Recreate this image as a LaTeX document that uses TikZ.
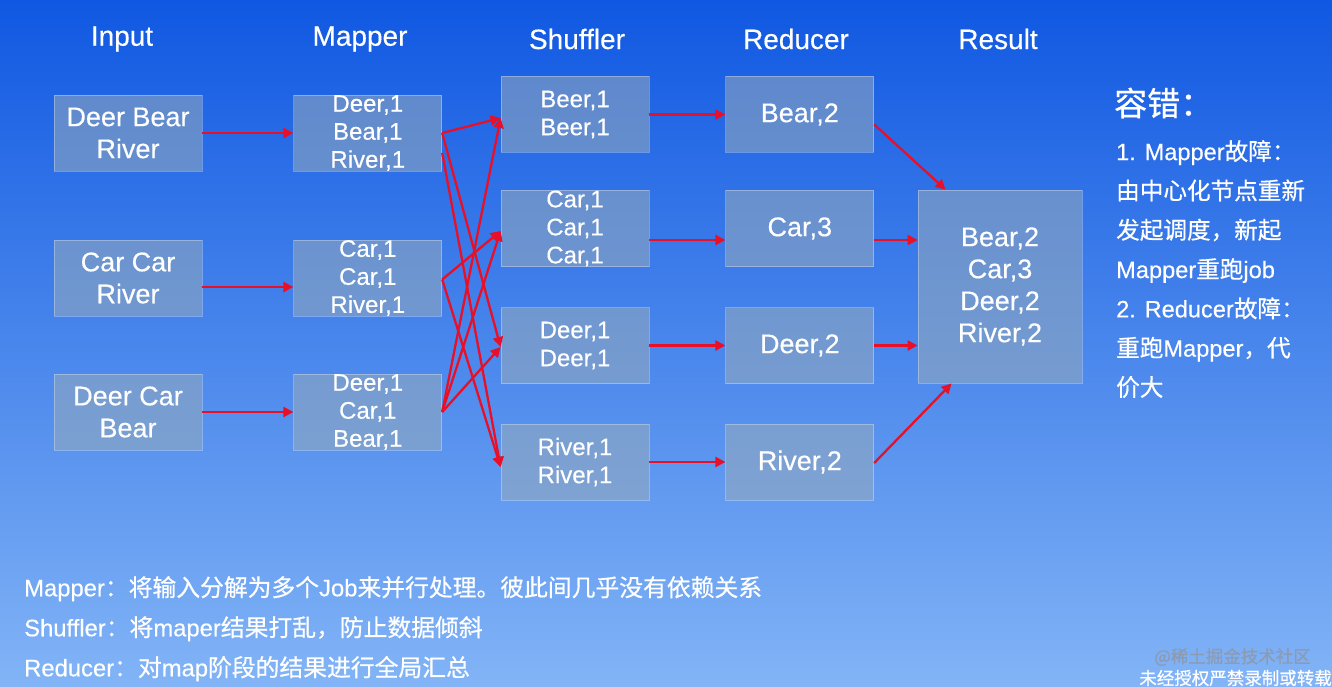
\documentclass[tikz,border=0pt]{standalone}
\usepackage{fontspec}
\setmainfont[FakeBold=0.35]{Liberation Sans}
\newfontfamily\cjk[FakeBold=0.6]{Noto Sans CJK SC}
\usetikzlibrary{arrows.meta,positioning}
\newcommand{\zh}[1]{{\cjk #1}}

\definecolor{bgtop}{RGB}{16,88,226}
\definecolor{bgmid}{RGB}{46,122,236}
\definecolor{bgbot}{RGB}{130,180,246}
\definecolor{boxfill}{RGB}{150,170,186}
\definecolor{arrowred}{RGB}{232,16,40}
\definecolor{markgray}{RGB}{140,155,180}

\begin{document}
\begin{tikzpicture}[
  x=1pt, y=-1pt,
  font=\fontsize{27}{32}\selectfont,
  line/.style={draw=arrowred, line width=2.3pt, -{Triangle[length=10pt,width=10pt]}},
  box/.style={fill=boxfill, fill opacity=0.55, text opacity=1, draw=white, draw opacity=0.3,
    line width=0.8pt, text=white, align=center, inner sep=0pt,
    minimum width=148pt, minimum height=76pt},
  pairs/.style={box, font=\fontsize{24}{28}\selectfont},
  head/.style={text=white, inner sep=0pt, font=\fontsize{28}{32}\selectfont},
  note/.style={text=white, inner sep=0pt, anchor=west}
]
\useasboundingbox (0,0) rectangle (1332,687);
\shade[top color=bgtop, middle color=bgmid, bottom color=bgbot] (0,0) rectangle (1332,687);

% column heads
\node[head] (hin) at (122,39) {Input};
\node[head] (hmap) at (360,39) {Mapper};
\node[head] (hsh) at (577,39) {Shuffler};
\node[head] (hred) at (796,39) {Reducer};
\node[head] (hres) at (998,39) {Result};

% input and mapper
\node[box] (in1) at (128,133) {Deer Bear\\River};
\node[box] (in2) at (128,278) {Car Car\\River};
\node[box] (in3) at (128,412) {Deer Car\\Bear};
\node[pairs, right=91pt of in1] (map1) {Deer,1\\Bear,1\\River,1};
\node[pairs, right=91pt of in2] (map2) {Car,1\\Car,1\\River,1};
\node[pairs, right=91pt of in3] (map3) {Deer,1\\Car,1\\Bear,1};

% shuffler and reducer
\node[pairs] (sh1) at (575,114.5) {Beer,1\\Beer,1};
\node[pairs] (sh2) at (575,228.5) {Car,1\\Car,1\\Car,1};
\node[pairs] (sh3) at (575,345.5) {Deer,1\\Deer,1};
\node[pairs] (sh4) at (575,462) {River,1\\River,1};
\node[box, right=76pt of sh1] (red1) {Bear,2};
\node[box, right=76pt of sh2] (red2) {Car,3};
\node[box, right=76pt of sh3] (red3) {Deer,2};
\node[box, right=76pt of sh4] (red4) {River,2};

\node[box, minimum width=164pt, minimum height=193pt] (res) at (1000,286.5) {Bear,2\\Car,3\\Deer,2\\River,2};

% fault tolerance notes
\node[note, font=\fontsize{33}{36}\selectfont] (ftitle) at (1114,103) {\zh{容错：}};
\node[note, align=left, anchor=north west, font=\fontsize{23.6}{39.3}\selectfont] (flist) at (1116,140) {%
1. Mapper\zh{故障：}\\
\zh{由中心化节点重新}\\
\zh{发起调度，新起}\\
Mapper\zh{重跑}job\\
2. Reducer\zh{故障：}\\
\zh{重跑}Mapper\zh{，代}\\
\zh{价大}};

% role notes
\node[note, align=left, anchor=north west, font=\fontsize{23.8}{40}\selectfont] (roles) at (24,576) {%
Mapper\zh{：将输入分解为多个}Job\zh{来并行处理。彼此间几乎没有依赖关系}\\
Shuffler\zh{：将}maper\zh{结果打乱，防止数据倾斜}\\
Reducer\zh{：对}map\zh{阶段的结果进行全局汇总}};

% source marks
\node[note, anchor=east, text=markgray, font=\fontsize{17.5}{20}\selectfont] (mark1) at (1311,657) {\zh{@稀土掘金技术社区}};
\node[note, anchor=east, font=\fontsize{17.5}{20}\selectfont] (mark2) at (1332,678) {\zh{未经授权严禁录制或转载}};

% input to mapper
\draw[line] (in1) -- (map1);
\draw[line] ([yshift=-9pt]in2.east) -- ([yshift=-9pt]map2.west);
\draw[line] (in3) -- (map3);

% mapper to shuffler
\draw[line] (map1.east) -- ([yshift=-3.5pt]sh1.west);
\draw[line] (map1.east) -- ([yshift=-1.5pt]sh3.west);
\draw[line] ([yshift=-20pt]map1.east) -- ([yshift=-5pt]sh4.west);
\draw[line] ([yshift=-1.5pt]map2.east) -- ([yshift=-2.5pt]sh2.west);
\draw[line] ([yshift=-1.5pt]map2.east) -- ([yshift=-5pt]sh4.west);
\draw[line] (map3.east) -- ([yshift=-3.5pt]sh1.west);
\draw[line] (map3.east) -- ([yshift=-2.5pt]sh2.west);
\draw[line] (map3.east) -- ([yshift=-1.5pt]sh3.west);

% shuffler to reducer
\draw[line] (sh1) -- (red1);
\draw[line] ([yshift=-11.5pt]sh2.east) -- ([yshift=-11.5pt]red2.west);
\draw[line] (sh3) -- (red3);
\draw[line] (sh4) -- (red4);

% reducer to result
\coordinate (r2out) at ([yshift=-11.5pt]red2.east);
\draw[line] ([yshift=-10pt]red1.east) -- ([xshift=28pt]res.north west);
\draw[line] (r2out) -- (r2out -| res.west);
\draw[line] (red3.east) -- (red3.east -| res.west);
\draw[line] ([yshift=-1pt]red4.east) -- ([xshift=34pt]res.south west);
\end{tikzpicture}
\end{document}
